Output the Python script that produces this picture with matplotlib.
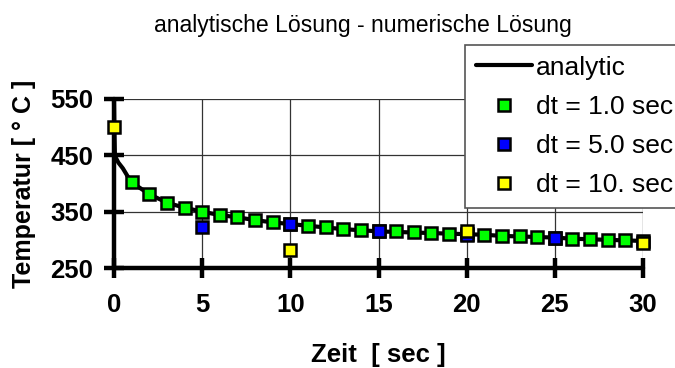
import matplotlib
matplotlib.use("Agg")
import matplotlib.pyplot as plt

plt.rcParams['font.family'] = ['Liberation Sans', 'DejaVu Sans']

# analytic solution
t_analytic = [0, 0.02, 0.05, 0.1, 0.25, 0.5, 0.75, 1, 2, 3, 4, 5, 6, 7, 8, 9, 10,
              11, 12, 13, 14, 15, 16, 17, 18, 19, 20, 21, 22, 23, 24, 25, 26, 27,
              28, 29, 30]
T_analytic = [550, 500, 452, 446, 437, 427, 414, 402, 381, 366, 357, 350, 344, 340,
              335, 331, 328, 325, 322, 319, 317, 315, 314, 313, 312, 311, 310, 309,
              307, 306, 305, 304, 302, 301, 300, 299, 298]

t_dt1 = list(range(1, 31))
T_dt1 = [402, 381, 366, 357, 350, 344, 340, 335, 331, 328, 325, 322, 319, 317, 315,
         315, 314, 313, 311, 310, 309, 307, 307, 305, 304, 302, 301, 300, 299, 298]

t_dt5 = [5, 10, 15, 20, 25]
T_dt5 = [323, 328, 315, 309, 303]

t_dt10 = [0, 10, 20, 30]
T_dt10 = [501, 282, 316, 295]

title = "analytische Lösung - numerische Lösung"
xlabel = "Zeit  [ sec ]"
ylabel = "Temperatur [ ° C ]"
labels = ["analytic", "dt = 1.0 sec", "dt = 5.0 sec", "dt = 10. sec"]
xticks = [0, 5, 10, 15, 20, 25, 30]
yticks = [250, 350, 450, 550]

fig = plt.figure(figsize=(6.75, 3.68), dpi=100)
ax = fig.add_axes([114/675, 1-268/368, (643-114)/675, (268-99)/368])
ax.set_xlim(0, 30)
ax.set_ylim(250, 550)
ax.set_xticks(xticks)
ax.set_yticks(yticks)

ax.grid(True, color='#333333', linewidth=0.9)
ax.set_axisbelow(True)
for s in ['top', 'right']:
    ax.spines[s].set_visible(False)
for s in ['left', 'bottom']:
    ax.spines[s].set_linewidth(3.2)
    ax.spines[s].set_capstyle('round')
ax.tick_params(axis='both', direction='inout', length=14, width=3.2,
               labelsize=18.5)
ax.tick_params(axis='y', pad=8)
ax.tick_params(axis='x', pad=11)
for lab in ax.get_xticklabels() + ax.get_yticklabels():
    lab.set_fontweight('bold')

ms = 8.5
mew = 1.8
l0, = ax.plot(t_analytic, T_analytic, color='black', lw=3, solid_capstyle='round',
              zorder=3, clip_on=False)
l1, = ax.plot(t_dt1, T_dt1, ls='none', marker='s', ms=ms, mfc='#00ff00', mec='black',
              mew=mew, zorder=4, clip_on=False)
l2, = ax.plot(t_dt5, T_dt5, ls='none', marker='s', ms=ms, mfc='#0000ff', mec='black',
              mew=mew, zorder=5, clip_on=False)
l3, = ax.plot(t_dt10, T_dt10, ls='none', marker='s', ms=ms, mfc='#ffff00', mec='black',
              mew=mew, zorder=6, clip_on=False)

ax.set_xlabel(xlabel, fontsize=18.5, fontweight='bold', labelpad=19)
ax.set_ylabel(ylabel, fontsize=18, fontweight='bold', labelpad=10)
fig.text(363/675, 1-32/368, title, ha='center', va='baseline', fontsize=16.6)

leg = fig.legend([l0, l1, l2, l3], labels, loc='upper left',
                 bbox_to_anchor=(465/675, 1-45/368), fontsize=19,
                 frameon=True, fancybox=False, framealpha=1, edgecolor='#555555',
                 handlelength=2.15, handletextpad=0.15, labelspacing=0.58,
                 borderpad=0.4, markerscale=1.0, borderaxespad=0)
leg.get_frame().set_linewidth(1.2)

fig.savefig("out.png", dpi=100)
